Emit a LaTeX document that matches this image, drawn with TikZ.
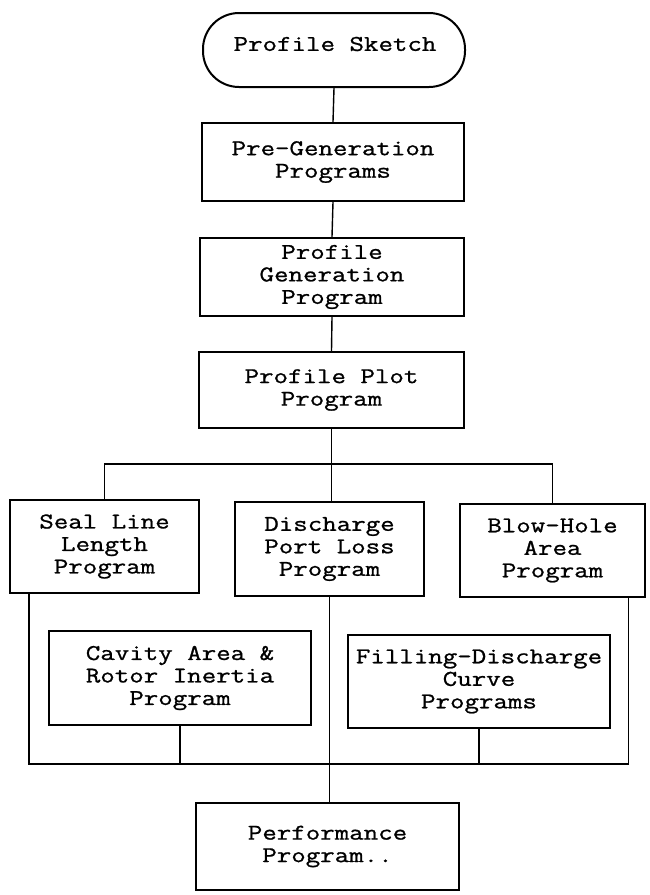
\documentclass[tikz,border=0pt]{standalone}
\usepackage{fontspec}
\setmonofont[FakeStretch=1.25,FakeBold=1.0]{Latin Modern Mono}
\begin{document}
\begin{tikzpicture}[x=1pt,y=-1pt,
  txt/.style={align=center, inner sep=0pt, font=\fontsize{22.5}{22.5}\selectfont\ttfamily},
  box/.style={txt, draw, line width=2.4pt},
  term/.style={draw, line width=2pt, rounded corners=36pt, inner sep=0pt},
  ln/.style={line width=1.4pt}]
\useasboundingbox (0,0) rectangle (649,895);
% terminal
\node[term, minimum width=262pt, minimum height=74pt] (ps) at (334,50) {};
\node[txt] (pstext) at (335,44) {Profile Sketch};
% boxes
\node[box, minimum width=262pt, minimum height=78pt] (pg) at (333,162) {Pre-Generation\\Programs};
\node[box, minimum width=264pt, minimum height=78pt] (gen) at (332,277) {Profile\\Generation\\Program};
\node[box, minimum width=265pt, minimum height=76pt] (plot) at (331.5,390) {Profile Plot\\Program};
\node[box, minimum width=189pt, minimum height=93pt] (seal) at (104.5,546.5) {Seal Line\\Length\\Program};
\node[box, minimum width=189pt, minimum height=94pt] (dis) at (329.5,549) {Discharge\\Port Loss\\Program};
\node[box, minimum width=185pt, minimum height=93pt] (blow) at (552.5,550.5) {Blow-Hole\\Area\\Program};
\node[box, minimum width=262pt, minimum height=94pt] (cav) at (180,678) {Cavity Area \&\\Rotor Inertia\\Program};
\node[box, minimum width=262pt, minimum height=93pt] (fill) at (479,681.5) {Filling-Discharge\\Curve\\Programs};
\node[box, minimum width=263pt, minimum height=87pt] (perf) at (327.5,846.5) {Performance\\Program..};
% connectors
\coordinate (t) at (331,464);
\coordinate (b) at (331,764);
\draw[ln] (ps.south) -- (pg.north);
\draw[ln] (pg.south) -- (gen.north);
\draw[ln] (gen.south) -- (plot.north);
\draw[ln] (plot.south) -- (plot.south |- dis.north);
\draw[ln] (seal.north) -- (seal.north |- t) -- (blow.north |- t) -- (blow.north);
\draw[ln] ([xshift=20pt]seal.south west) |- (b) -| ([xshift=-18pt]blow.south east);
\draw[ln] (cav.south) -- (cav.south |- b);
\draw[ln] (fill.south) -- (fill.south |- b);
\draw[ln] (dis.south) -- (dis.south |- perf.north);
\end{tikzpicture}
\end{document}
